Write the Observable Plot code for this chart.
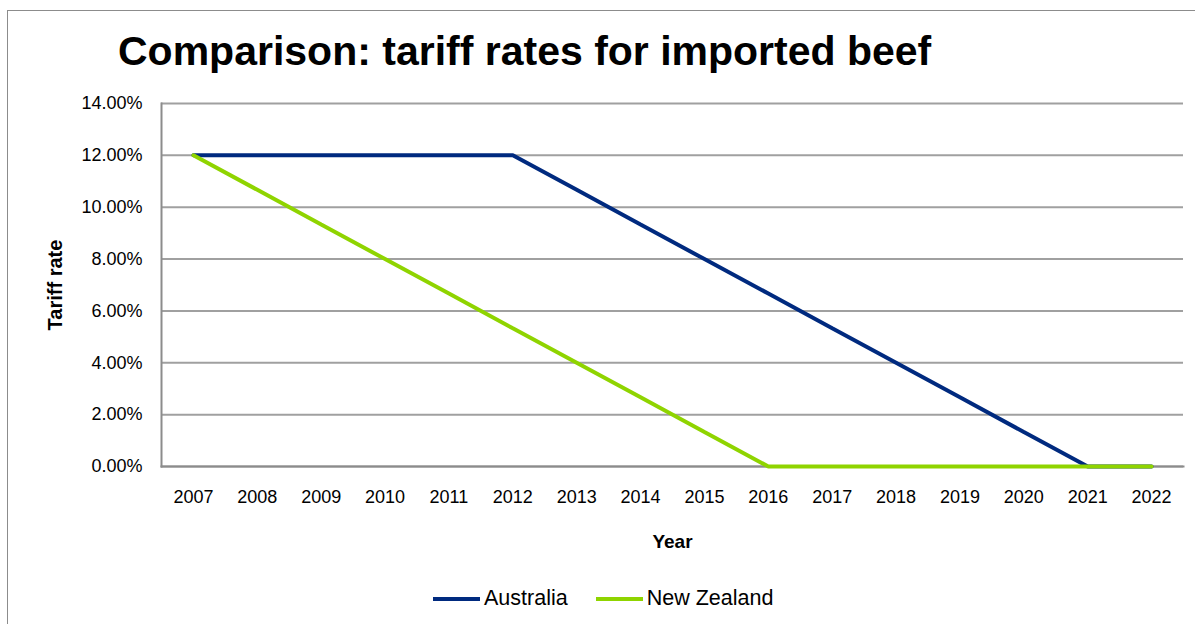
<!DOCTYPE html>
<html>
<head>
<meta charset="utf-8">
<script src="https://cdn.jsdelivr.net/npm/d3@7"></script>
<script src="https://cdn.jsdelivr.net/npm/@observablehq/plot@0.6"></script>
<style>
  html, body { margin: 0; padding: 0; background: #fff; }
  #wrap { position: relative; width: 1195px; height: 624px; overflow: hidden; font-family: "Liberation Sans", Arial, sans-serif; }
  #frame { position: absolute; left: 7px; top: 10px; width: 1300px; height: 800px; border: 1.5px solid #8c8c8c; box-sizing: border-box; }
  #title { position: absolute; left: 118px; top: 31px; font-size: 41px; font-weight: bold; color: #000; white-space: nowrap; line-height: 1; }
  #chart { position: absolute; left: 0; top: 0; }
  #legend { position: absolute; left: 433px; top: 586px; display: flex; align-items: center; font-size: 21.5px; color: #000; }
  .item { display: flex; align-items: center; margin-right: 28px; }
  .sw { width: 47px; height: 4px; margin-right: 4px; }
</style>
</head>
<body>
<div id="wrap">
  <div id="frame"></div>
  <div id="chart"></div>
  <div id="title">Comparison: tariff rates for imported beef</div>
  <div id="legend"></div>
</div>
<script>
const years = ["2007","2008","2009","2010","2011","2012","2013","2014","2015","2016","2017","2018","2019","2020","2021","2022"];
const australia = [12, 12, 12, 12, 12, 12, 10.67, 9.33, 8, 6.67, 5.33, 4, 2.67, 1.33, 0, 0];
const newZealand = [12, 10.67, 9.33, 8, 6.67, 5.33, 4, 2.67, 1.33, 0, 0, 0, 0, 0, 0, 0];
const seriesNames = ["Australia", "New Zealand"];
const seriesColors = ["#002a7f", "#8fd400"];
const yTicks = [0, 2, 4, 6, 8, 10, 12, 14];

const rows = [];
years.forEach((y, i) => {
  rows.push({year: y, value: australia[i] / 100, series: seriesNames[0]});
});
years.forEach((y, i) => {
  rows.push({year: y, value: newZealand[i] / 100, series: seriesNames[1]});
});

const font = '"Liberation Sans", Arial, sans-serif';

const plot = Plot.plot({
  width: 1195,
  height: 624,
  marginLeft: 161,
  marginRight: 12,
  marginTop: 103,
  marginBottom: 158,
  style: {fontFamily: font, fontSize: "18px", color: "#000", background: "transparent"},
  x: {type: "point", domain: years, padding: 0.5, round: false, label: null},
  y: {domain: [0, 0.14], label: null},
  color: {domain: seriesNames, range: seriesColors},
  marks: [
    Plot.ruleY(yTicks.map(d => d / 100), {stroke: "#a0a0a0", strokeWidth: 2, strokeOpacity: 1}),
    Plot.axisY({ticks: yTicks.map(d => d / 100), tickSize: 0, tickPadding: 19, tickFormat: d => (d * 100).toFixed(2) + "%", fontSize: 18, label: null}),
    Plot.axisY({ticks: [], tickSize: 0, label: "Tariff rate", labelAnchor: "center", labelArrow: "none", labelOffset: 114, fontSize: 20, fontWeight: "bold"}),
    Plot.axisX({tickSize: 0, tickPadding: 24, fontSize: 18, label: null}),
    Plot.axisX({ticks: [], tickSize: 0, label: "Year", labelAnchor: "center", labelArrow: "none", labelOffset: 81, fontSize: 19, fontWeight: "bold"}),
    Plot.frame({anchor: "left", stroke: "#8c8c8c", strokeWidth: 2}),
    Plot.frame({anchor: "bottom", stroke: "#8c8c8c", strokeWidth: 2}),
    Plot.line(rows, {x: "year", y: "value", z: "series", stroke: "series", strokeWidth: 4, strokeLinejoin: "miter", strokeLinecap: "round"})
  ]
});
document.getElementById("chart").appendChild(plot);

const legend = document.getElementById("legend");
seriesNames.forEach((name, i) => {
  const item = document.createElement("div");
  item.className = "item";
  const sw = document.createElement("div");
  sw.className = "sw";
  sw.style.background = seriesColors[i];
  const lab = document.createElement("span");
  lab.textContent = name;
  item.appendChild(sw);
  item.appendChild(lab);
  legend.appendChild(item);
});
</script>
</body>
</html>
